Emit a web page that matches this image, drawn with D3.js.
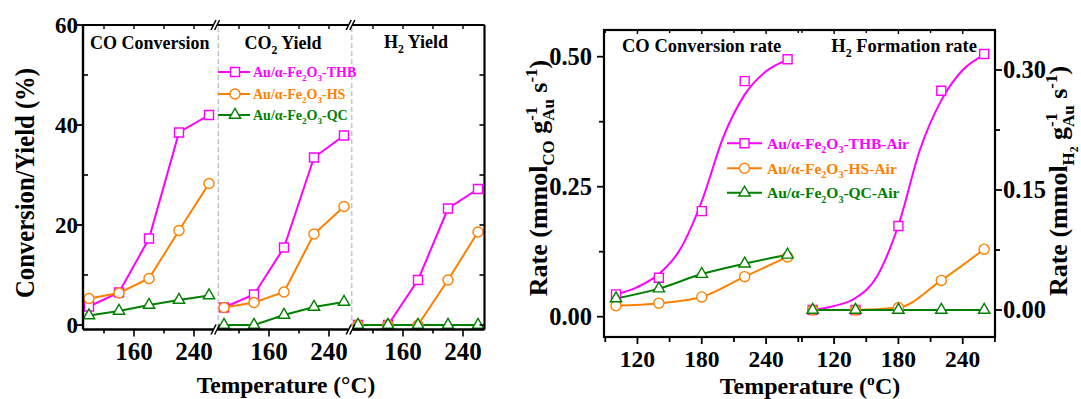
<!DOCTYPE html>
<html><head><meta charset="utf-8">
<script src="https://cdn.jsdelivr.net/npm/d3@7"></script>
<style>
body{margin:0;background:#fff}
svg{display:block}
text{font-family:"Liberation Serif","Times New Roman",serif;font-weight:bold}
</style>
</head><body>
<svg id="chart" width="1081" height="399"></svg>
<script>
// ---------------- data ----------------
const temps = [100, 140, 180, 220, 260];
const seriesKeys = ["THB", "HS", "QC"];
const seriesColors = ["#ff00ff", "#ff8000", "#008000"];
const seriesSymbols = ["square", "circle", "triangle"];

// panel (a): conversion / yield (%)
const coConversionTHB = [3.7, 6.5, 17.3, 38.5, 42.0];
const coConversionHS  = [5.3, 6.4, 9.3, 18.9, 28.3];
const coConversionQC  = [1.9, 2.8, 4.0, 5.0, 5.9];
const co2YieldTHB = [3.5, 6.1, 15.5, 33.5, 37.9];
const co2YieldHS  = [3.5, 4.5, 6.6, 18.2, 23.7];
const co2YieldQC  = [0.0, 0.0, 2.0, 3.6, 4.6];
const h2YieldTHB = [0.0, 0.0, 9.0, 23.3, 27.2];
const h2YieldHS  = [0.0, 0.0, 0.0, 9.0, 18.6];
const h2YieldQC  = [0.0, 0.0, 0.0, 0.0, 0.0];
const yieldYTicks = [0, 20, 40, 60];
const yieldYMinor = [10, 30, 50];
const yieldXTicks = [160, 240];
const yieldXMinor = [120, 200];

// panel (b): rates
const coRateTHB = [0.043, 0.075, 0.203, 0.453, 0.495];
const coRateHS  = [0.021, 0.026, 0.038, 0.077, 0.115];
const coRateQC  = [0.035, 0.054, 0.082, 0.102, 0.119];
const h2RateTHB = [0.0, 0.0, 0.105, 0.274, 0.320];
const h2RateHS  = [0.0, 0.0, 0.003, 0.037, 0.076];
const h2RateQC  = [0.0, 0.0, 0.0, 0.0, 0.0];
// fitted curves
const fitTemps = [100, 120, 140, 160, 180, 200, 220, 240, 260];
const coRateFitTHB = [0.043, 0.057, 0.082, 0.130, 0.222, 0.345, 0.427, 0.472, 0.494];
const h2RateFitTHB = [0.0, 0.005, 0.015, 0.042, 0.106, 0.200, 0.262, 0.300, 0.319];
const rateXTicks = [120, 180, 240];
const rateXMinor = [90, 150, 210, 270];
const coRateTicks = [0.00, 0.25, 0.50];
const coRateMinor = [0.125, 0.375];
const h2RateTicks = [0.00, 0.15, 0.30];
const h2RateMinor = [0.075, 0.225];

// ---------------- helpers ----------------
const svg = d3.select("#chart");
function rich(sel, parts, size) {
  let shift = 0;
  parts.forEach(p => {
    let target = 0, fs = size;
    if (p.s === "sub") { target = size * 0.28; fs = size * 0.65; }
    else if (p.s === "sup") { target = -size * 0.38; fs = size * 0.65; }
    else if (p.s === "subsub") { target = size * 0.42; fs = size * 0.45; }
    const ts = sel.append("tspan").text(p.t).attr("dy", target - shift).style("font-size", fs + "px");
    if (p.dx) ts.attr("dx", p.dx);
    shift = target;
  });
}
function symbolPath(kind, size) {
  const t = kind === "square" ? d3.symbolSquare : kind === "circle" ? d3.symbolCircle : d3.symbolTriangle;
  return d3.symbol().type(t).size(size)();
}
const symSizes = {square: 81, circle: 80, triangle: 56};
function drawMarkers(g, xs, ys, color, kind) {
  g.selectAll(null).data(xs.map((x, i) => [x, ys[i]])).join("path")
    .attr("d", symbolPath(kind, symSizes[kind]))
    .attr("transform", d => `translate(${d[0]},${d[1]})`)
    .attr("fill", "white").attr("stroke", color).attr("stroke-width", 1.4);
}

// ================= panel (a) =================
const A = {left: 83, top: 25, right: 484.5, bottom: 329.5};
const segStarts = [83, 218, 352];
const segWidth = 132;
const yA = d3.scaleLinear().domain([-0.9, 60]).range([A.bottom, A.top]);
const segData = [
  [coConversionTHB, coConversionHS, coConversionQC],
  [co2YieldTHB, co2YieldHS, co2YieldQC],
  [h2YieldTHB, h2YieldHS, h2YieldQC]
];
const gA = svg.append("g");

// dashed separators
[218.3, 351.7].forEach(x => {
  gA.append("line").attr("x1", x).attr("x2", x).attr("y1", A.top + 2).attr("y2", A.bottom - 1)
    .attr("stroke", "#c8c8c8").attr("stroke-width", 1.6).attr("stroke-dasharray", "5,3");
});

// segments
segStarts.forEach((s, si) => {
  const x = d3.scaleLinear().domain([92, 268]).range([s, s + segWidth]);
  yieldXTicks.forEach(t => gA.append("line").attr("x1", x(t)).attr("x2", x(t)).attr("y1", A.bottom).attr("y2", A.bottom + 7).attr("stroke", "#000").attr("stroke-width", 1.6));
  yieldXMinor.forEach(t => gA.append("line").attr("x1", x(t)).attr("x2", x(t)).attr("y1", A.bottom).attr("y2", A.bottom + 4).attr("stroke", "#000").attr("stroke-width", 1.6));
  yieldXTicks.concat(yieldXMinor).forEach(t => gA.append("line").attr("x1", x(t)).attr("x2", x(t)).attr("y1", A.top).attr("y2", A.top + 4).attr("stroke", "#000").attr("stroke-width", 1.4));
  yieldXTicks.forEach(t => gA.append("text").attr("x", x(t)).attr("y", 360).attr("text-anchor", "middle").style("font-size", "25px").text(t));
  const line = d3.line().x((d, i) => x(temps[i])).y(d => yA(d));
  segData[si].forEach((vals, k) => {
    gA.append("path").attr("d", line(vals)).attr("fill", "none").attr("stroke", seriesColors[k]).attr("stroke-width", 2);
  });
  segData[si].forEach((vals, k) => {
    drawMarkers(gA, temps.map(t => x(t)), vals.map(v => yA(v)), seriesColors[k], seriesSymbols[k]);
  });
});

// frame
gA.append("line").attr("x1", A.left).attr("x2", A.left).attr("y1", A.top).attr("y2", A.bottom).attr("stroke", "#000").attr("stroke-width", 2.4);
gA.append("line").attr("x1", A.right).attr("x2", A.right).attr("y1", A.top).attr("y2", A.bottom).attr("stroke", "#000").attr("stroke-width", 2.2);
gA.append("line").attr("x1", A.left).attr("x2", A.right).attr("y1", A.top).attr("y2", A.top).attr("stroke", "#000").attr("stroke-width", 2.2);
gA.append("line").attr("x1", A.left).attr("x2", A.right).attr("y1", A.bottom).attr("y2", A.bottom).attr("stroke", "#000").attr("stroke-width", 2.4);
// break marks
[215.3, 350.5].forEach(bx => {
  [A.top, A.bottom].forEach(by => {
    gA.append("rect").attr("x", bx - 2).attr("y", by - 3).attr("width", 4).attr("height", 6).attr("fill", "white");
    [-1.8, 1.8].forEach(o => gA.append("line").attr("x1", bx + o - 2.5).attr("y1", by + 5).attr("x2", bx + o + 2.5).attr("y2", by - 5).attr("stroke", "#000").attr("stroke-width", 1.5));
  });
});
// y ticks
yieldYTicks.forEach(v => {
  gA.append("line").attr("x1", A.left - 6).attr("x2", A.left).attr("y1", yA(v)).attr("y2", yA(v)).attr("stroke", "#000").attr("stroke-width", 1.8);
  gA.append("text").attr("x", 78).attr("y", yA(v)).attr("dy", "0.34em").attr("text-anchor", "end").style("font-size", "23px").text(v);
});
yieldYMinor.forEach(v => gA.append("line").attr("x1", A.left).attr("x2", A.left + 5).attr("y1", yA(v)).attr("y2", yA(v)).attr("stroke", "#000").attr("stroke-width", 1.6));
yieldYTicks.concat(yieldYMinor).forEach(v => gA.append("line").attr("x1", A.right - 5).attr("x2", A.right).attr("y1", yA(v)).attr("y2", yA(v)).attr("stroke", "#000").attr("stroke-width", 1.6));

// sub-panel titles
rich(gA.append("text").attr("x", 90).attr("y", 49), [{t: "CO Conversion"}], 18);
rich(gA.append("text").attr("x", 283).attr("y", 49).attr("text-anchor", "middle"), [{t: "CO"}, {t: "2", s: "sub"}, {t: " Yield"}], 18);
rich(gA.append("text").attr("x", 416).attr("y", 48).attr("text-anchor", "middle"), [{t: "H"}, {t: "2", s: "sub"}, {t: " Yield"}], 18);

// legend (a)
const legA = [72, 94, 115];
seriesKeys.forEach((k, i) => {
  const y = legA[i];
  gA.append("line").attr("x1", 218).attr("x2", 250).attr("y1", y).attr("y2", y).attr("stroke", seriesColors[i]).attr("stroke-width", 2);
  drawMarkers(gA, [235], [y], seriesColors[i], seriesSymbols[i]);
  rich(gA.append("text").attr("x", 253).attr("y", y + 5).attr("fill", seriesColors[i]),
    [{t: "Au/α-Fe"}, {t: "2", s: "sub"}, {t: "O"}, {t: "3", s: "sub"}, {t: "-" + k}], 14);
});

// axis titles (a)
gA.append("text").attr("transform", "translate(34,183) rotate(-90)").attr("text-anchor", "middle")
  .attr("textLength", 230).attr("lengthAdjust", "spacingAndGlyphs").style("font-size", "27px").text("Conversion/Yield (%)");
gA.append("text").attr("x", 286).attr("y", 393).attr("text-anchor", "middle").style("font-size", "23.5px").text("Temperature (°C)");

// ================= panel (b) =================
const B = {left: 604, top: 30, right: 995, bottom: 337, mid: 800};
const xCO = d3.scaleLinear().domain([88.8, 271.6]).range([B.left, B.mid]);
const xH2 = d3.scaleLinear().domain([88.2, 270.1]).range([B.mid, B.right]);
const yCO = d3.scaleLinear().domain([0, 0.5]).range([316.7, 56.7]);
const yH2 = d3.scaleLinear().domain([0, 0.3]).range([310, 70]);
const gB = svg.append("g");

const coLine = d3.line().x((d, i) => xCO(temps[i])).y(d => yCO(d)).curve(d3.curveMonotoneX);
const h2Line = d3.line().x((d, i) => xH2(temps[i])).y(d => yH2(d)).curve(d3.curveMonotoneX);
const coFit = d3.line().x((d, i) => xCO(fitTemps[i])).y(d => yCO(d)).curve(d3.curveMonotoneX);
const h2Fit = d3.line().x((d, i) => xH2(fitTemps[i])).y(d => yH2(d)).curve(d3.curveMonotoneX);

gB.append("path").attr("d", coFit(coRateFitTHB)).attr("fill", "none").attr("stroke", seriesColors[0]).attr("stroke-width", 2);
gB.append("path").attr("d", coLine(coRateHS)).attr("fill", "none").attr("stroke", seriesColors[1]).attr("stroke-width", 2);
gB.append("path").attr("d", coLine(coRateQC)).attr("fill", "none").attr("stroke", seriesColors[2]).attr("stroke-width", 2);
gB.append("path").attr("d", h2Fit(h2RateFitTHB)).attr("fill", "none").attr("stroke", seriesColors[0]).attr("stroke-width", 2);
gB.append("path").attr("d", h2Line(h2RateHS)).attr("fill", "none").attr("stroke", seriesColors[1]).attr("stroke-width", 2);
gB.append("path").attr("d", h2Line(h2RateQC)).attr("fill", "none").attr("stroke", seriesColors[2]).attr("stroke-width", 2);

[coRateTHB, coRateHS, coRateQC].forEach((vals, k) => drawMarkers(gB, temps.map(t => xCO(t)), vals.map(v => yCO(v)), seriesColors[k], seriesSymbols[k]));
[h2RateTHB, h2RateHS, h2RateQC].forEach((vals, k) => drawMarkers(gB, temps.map(t => xH2(t)), vals.map(v => yH2(v)), seriesColors[k], seriesSymbols[k]));

// frame
gB.append("rect").attr("x", B.left).attr("y", B.top).attr("width", B.right - B.left).attr("height", B.bottom - B.top)
  .attr("fill", "none").attr("stroke", "#000").attr("stroke-width", 2.2);

// x ticks
[xCO, xH2].forEach(x => {
  rateXTicks.forEach(t => {
    gB.append("line").attr("x1", x(t)).attr("x2", x(t)).attr("y1", B.bottom).attr("y2", B.bottom + 7).attr("stroke", "#000").attr("stroke-width", 1.8);
    gB.append("line").attr("x1", x(t)).attr("x2", x(t)).attr("y1", B.top).attr("y2", B.top + 4).attr("stroke", "#000").attr("stroke-width", 1.4);
    gB.append("text").attr("x", x(t)).attr("y", 367).attr("text-anchor", "middle").style("font-size", "23.5px").text(t);
  });
  rateXMinor.forEach(t => {
    gB.append("line").attr("x1", x(t)).attr("x2", x(t)).attr("y1", B.bottom).attr("y2", B.bottom + 5).attr("stroke", "#000").attr("stroke-width", 1.8);
    gB.append("line").attr("x1", x(t)).attr("x2", x(t)).attr("y1", B.top).attr("y2", B.top + 3).attr("stroke", "#000").attr("stroke-width", 1.4);
  });
});
// y ticks left
coRateTicks.forEach(v => {
  gB.append("line").attr("x1", B.left - 7).attr("x2", B.left).attr("y1", yCO(v)).attr("y2", yCO(v)).attr("stroke", "#000").attr("stroke-width", 1.8);
  gB.append("text").attr("x", 592).attr("y", yCO(v)).attr("dy", "0.34em").attr("text-anchor", "end").style("font-size", "24.5px").text(v.toFixed(2));
});
coRateMinor.forEach(v => gB.append("line").attr("x1", B.left - 5).attr("x2", B.left).attr("y1", yCO(v)).attr("y2", yCO(v)).attr("stroke", "#000").attr("stroke-width", 1.8));
// y ticks right
h2RateTicks.forEach(v => {
  gB.append("line").attr("x1", B.right).attr("x2", B.right + 7).attr("y1", yH2(v)).attr("y2", yH2(v)).attr("stroke", "#000").attr("stroke-width", 1.8);
  gB.append("text").attr("x", 1003).attr("y", yH2(v)).attr("dy", "0.34em").attr("text-anchor", "start").style("font-size", "24.5px").text(v.toFixed(2));
});
h2RateMinor.forEach(v => gB.append("line").attr("x1", B.right).attr("x2", B.right + 5).attr("y1", yH2(v)).attr("y2", yH2(v)).attr("stroke", "#000").attr("stroke-width", 1.8));

// titles
rich(gB.append("text").attr("x", 622).attr("y", 51.5), [{t: "CO Conversion rate"}], 18.5);
rich(gB.append("text").attr("x", 977).attr("y", 51.5).attr("text-anchor", "end"), [{t: "H"}, {t: "2", s: "sub"}, {t: " Formation rate"}], 18.5);

// legend (b)
const legB = [143.3, 168.3, 192.7];
seriesKeys.forEach((k, i) => {
  const y = legB[i];
  gB.append("line").attr("x1", 727).attr("x2", 762).attr("y1", y).attr("y2", y).attr("stroke", seriesColors[i]).attr("stroke-width", 2);
  drawMarkers(gB, [744.5], [y], seriesColors[i], seriesSymbols[i]);
  rich(gB.append("text").attr("x", 767).attr("y", y + 5.5).attr("fill", seriesColors[i]),
    [{t: "Au/α-Fe"}, {t: "2", s: "sub"}, {t: "O"}, {t: "3", s: "sub"}, {t: "-" + k + "-Air"}], 15.5);
});

// axis titles (b)
const rs = 26;
rich(gB.append("text").attr("transform", "translate(547,178) rotate(-90)").attr("text-anchor", "middle"),
  [{t: "Rate (mmol"}, {t: "CO", s: "sub"}, {t: " g"}, {t: "-1", s: "sup"}, {t: "Au", s: "sub", dx: -rs * 0.65 * 0.833}, {t: " s"}, {t: "-1", s: "sup"}, {t: ")"}], rs);
rich(gB.append("text").attr("transform", "translate(1067,181) rotate(-90)").attr("text-anchor", "middle"),
  [{t: "Rate (mmol"}, {t: "H", s: "sub"}, {t: "2", s: "subsub"}, {t: " g"}, {t: "-1", s: "sup"}, {t: "Au", s: "sub", dx: -rs * 0.65 * 0.833}, {t: " s"}, {t: "-1", s: "sup"}, {t: ")"}], rs);
rich(gB.append("text").attr("x", 810).attr("y", 394).attr("text-anchor", "middle"),
  [{t: "Temperature ("}, {t: "o", s: "sup"}, {t: "C)"}], 24);
</script>
</body></html>
